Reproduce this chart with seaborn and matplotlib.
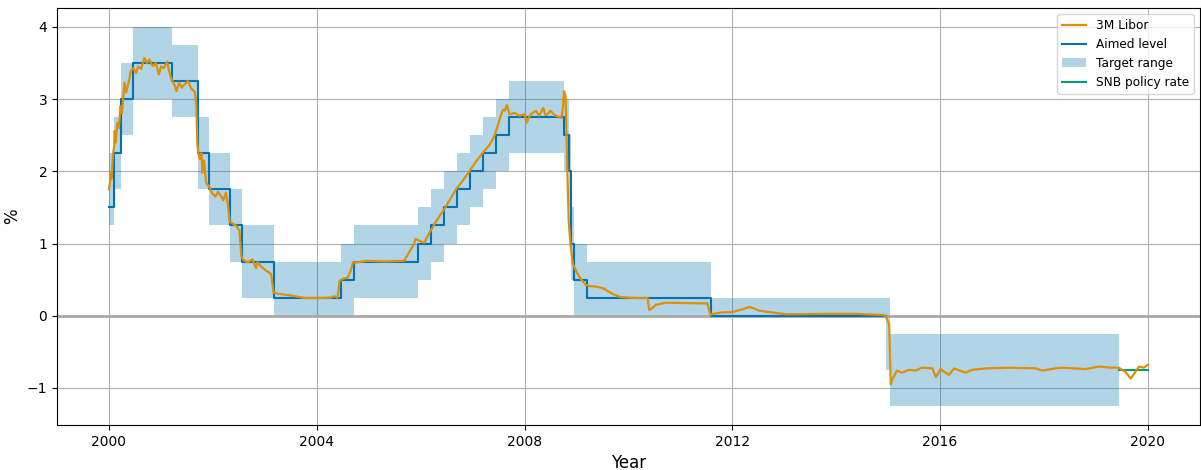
import pandas as pd
import numpy as np
import matplotlib
matplotlib.use('Agg')
import matplotlib.pyplot as plt
import matplotlib.dates as mdates
import seaborn as sns

# SNB target range changes (date of change, lower bound, upper bound, aimed level)
change_dates = ['2000-01-03', '2000-02-03', '2000-03-23', '2000-06-15', '2001-03-22',
                '2001-09-17', '2001-12-07', '2002-05-02', '2002-07-26', '2003-03-06',
                '2004-06-17', '2004-09-16', '2005-12-15', '2006-03-16', '2006-06-15',
                '2006-09-14', '2006-12-14', '2007-03-15', '2007-06-14', '2007-09-13',
                '2008-10-08', '2008-11-06', '2008-11-20', '2008-12-11', '2009-03-12',
                '2011-08-03', '2014-12-18', '2015-01-15', '2019-06-13']
range_low = [1.25, 1.75, 2.5, 3.0, 2.75, 1.75, 1.25, 0.75, 0.25, 0.0,
             0.0, 0.25, 0.5, 0.75, 1.0, 1.25, 1.5, 1.75, 2.0, 2.25,
             2.0, 1.5, 0.5, 0.0, 0.0, 0.0, -0.75, -1.25, -1.25]
range_high = [2.25, 2.75, 3.5, 4.0, 3.75, 2.75, 2.25, 1.75, 1.25, 0.75,
              1.0, 1.25, 1.5, 1.75, 2.0, 2.25, 2.5, 2.75, 3.0, 3.25,
              3.0, 2.5, 1.5, 1.0, 0.75, 0.25, 0.25, -0.25, -0.25]
# no aimed level shown once rates went negative
aimed_level = [1.5, 2.25, 3.0, 3.5, 3.25, 2.25, 1.75, 1.25, 0.75, 0.25,
               0.5, 0.75, 1.0, 1.25, 1.5, 1.75, 2.0, 2.25, 2.5, 2.75,
               2.5, 2.0, 1.0, 0.5, 0.25, 0.0, np.nan, np.nan, np.nan]

# SNB policy rate (from June 2019)
policy_dates = ['2019-06-13', '2020-01-01']
policy_rate = [-0.75, -0.75]

# 3M CHF Libor (decimal year, %)
libor_year = [2000.00, 2000.02, 2000.03, 2000.05, 2000.08, 2000.10, 2000.11, 2000.13, 2000.16, 2000.19,
              2000.22, 2000.25, 2000.27, 2000.30, 2000.33, 2000.38, 2000.42, 2000.47, 2000.52, 2000.56,
              2000.62, 2000.65, 2000.68, 2000.73, 2000.78, 2000.82, 2000.85, 2000.90, 2000.96, 2001.00,
              2001.06, 2001.12, 2001.17, 2001.21, 2001.27, 2001.30, 2001.35, 2001.40, 2001.45, 2001.52,
              2001.58, 2001.65, 2001.68, 2001.70, 2001.72, 2001.75, 2001.78, 2001.80, 2001.83, 2001.87,
              2001.92, 2001.98, 2002.05, 2002.10, 2002.15, 2002.20, 2002.25, 2002.29, 2002.32, 2002.35,
              2002.45, 2002.51, 2002.55, 2002.61, 2002.67, 2002.76, 2002.83, 2002.86, 2002.93, 2003.03,
              2003.12, 2003.17, 2003.28, 2003.50, 2003.76, 2004.01, 2004.27, 2004.34, 2004.40, 2004.44,
              2004.50, 2004.60, 2004.65, 2004.70, 2004.79, 2004.98, 2005.30, 2005.68, 2005.74, 2005.87,
              2005.90, 2006.00, 2006.07, 2006.17, 2006.30, 2006.43, 2006.55, 2006.68, 2006.81, 2006.94,
              2007.07, 2007.20, 2007.33, 2007.42, 2007.48, 2007.52, 2007.58, 2007.62, 2007.66, 2007.71,
              2007.81, 2007.90, 2008.00, 2008.04, 2008.08, 2008.12, 2008.22, 2008.28, 2008.36, 2008.40,
              2008.44, 2008.50, 2008.55, 2008.60, 2008.71, 2008.74, 2008.76, 2008.79, 2008.82, 2008.85,
              2008.89, 2008.93, 2008.99, 2009.08, 2009.18, 2009.25, 2009.40, 2009.51, 2009.70, 2009.83,
              2010.00, 2010.20, 2010.37, 2010.40, 2010.45, 2010.53, 2010.72, 2011.17, 2011.52, 2011.58,
              2011.65, 2011.81, 2012.00, 2012.20, 2012.33, 2012.42, 2012.52, 2012.71, 2013.03, 2013.74,
              2014.38, 2014.89, 2014.95, 2015.02, 2015.05, 2015.08, 2015.12, 2015.17, 2015.27, 2015.40,
              2015.53, 2015.65, 2015.85, 2015.92, 2016.01, 2016.17, 2016.27, 2016.49, 2016.62, 2016.88,
              2017.33, 2017.84, 2017.97, 2018.22, 2018.35, 2018.80, 2019.06, 2019.30, 2019.44, 2019.57,
              2019.67, 2019.76, 2019.83, 2019.92, 2020.00]
libor_rate = [1.75, 1.85, 1.98, 1.90, 2.25, 2.35, 2.56, 2.40, 2.67, 2.60,
              2.90, 2.81, 3.00, 3.23, 3.09, 3.24, 3.39, 3.43, 3.36, 3.45,
              3.42, 3.50, 3.57, 3.50, 3.55, 3.48, 3.46, 3.50, 3.34, 3.45,
              3.43, 3.52, 3.35, 3.27, 3.18, 3.11, 3.23, 3.16, 3.20, 3.25,
              3.15, 3.10, 2.95, 2.40, 2.25, 2.17, 2.25, 1.98, 2.15, 1.84,
              1.80, 1.70, 1.65, 1.72, 1.66, 1.60, 1.70, 1.54, 1.31, 1.29,
              1.245, 1.18, 0.81, 0.76, 0.74, 0.78, 0.66, 0.74, 0.68, 0.62,
              0.58, 0.32, 0.30, 0.28, 0.245, 0.245, 0.25, 0.27, 0.25, 0.48,
              0.51, 0.53, 0.62, 0.74, 0.74, 0.76, 0.75, 0.76, 0.83, 0.99,
              1.06, 1.03, 1.01, 1.15, 1.31, 1.45, 1.59, 1.75, 1.87, 2.00,
              2.14, 2.26, 2.37, 2.49, 2.62, 2.72, 2.85, 2.84, 2.92, 2.79,
              2.81, 2.77, 2.79, 2.67, 2.74, 2.79, 2.84, 2.77, 2.88, 2.78,
              2.79, 2.84, 2.80, 2.77, 2.74, 2.90, 3.11, 3.04, 2.14, 1.31,
              0.95, 0.72, 0.62, 0.51, 0.43, 0.41, 0.40, 0.38, 0.30, 0.26,
              0.25, 0.245, 0.245, 0.08, 0.10, 0.15, 0.18, 0.175, 0.17, 0.01,
              0.03, 0.045, 0.05, 0.09, 0.12, 0.10, 0.07, 0.05, 0.02, 0.025,
              0.025, 0.01, 0.00, -0.12, -0.95, -0.88, -0.83, -0.76, -0.79, -0.75,
              -0.76, -0.72, -0.73, -0.85, -0.74, -0.82, -0.73, -0.79, -0.75, -0.73,
              -0.72, -0.73, -0.76, -0.73, -0.72, -0.74, -0.705, -0.72, -0.72, -0.78,
              -0.87, -0.78, -0.705, -0.72, -0.68]


def to_date(years):
    years = np.asarray(years)
    return pd.Timestamp('2000-01-01') + pd.to_timedelta((years - 2000) * 365.25, unit='D')


libor = pd.DataFrame({'date': to_date(libor_year), 'rate': libor_rate})
target = pd.DataFrame({'date': pd.to_datetime(change_dates), 'low': range_low,
                       'high': range_high, 'aimed': aimed_level})
policy = pd.DataFrame({'date': pd.to_datetime(policy_dates), 'rate': policy_rate})

colors = sns.color_palette('colorblind')

fig, ax = plt.subplots(figsize=(12.01, 4.70), dpi=100)

sns.lineplot(data=libor, x='date', y='rate', color=colors[1], lw=1.6,
             label='3M Libor', ax=ax, zorder=4)
# plain plot for the steps so the NaN tail is kept as a gap
ax.plot(target['date'], target['aimed'], color=colors[0], lw=1.5,
        drawstyle='steps-post', label='Aimed level', zorder=3)
ax.fill_between(target['date'], target['low'], target['high'], step='post',
                color=colors[0], alpha=0.3, lw=0, label='Target range', zorder=1)
sns.lineplot(data=policy, x='date', y='rate', color=colors[2], lw=1.5,
             label='SNB policy rate', ax=ax, zorder=3)

ax.axhline(0, color='darkgrey', lw=2, zorder=2)
ax.grid(True, color='#b0b0b0', lw=0.8, zorder=0)
ax.set_axisbelow(True)

ax.xaxis.set_major_locator(mdates.YearLocator(4))
ax.xaxis.set_major_formatter(mdates.DateFormatter('%Y'))
ax.set_xlabel('Year', fontsize=12)
ax.set_ylabel('%', fontsize=12)
ax.legend(loc='upper right', fontsize=8.7)

plt.subplots_adjust(left=0.0475, right=0.999, top=0.983, bottom=0.096)
plt.savefig('out.png', dpi=100)
